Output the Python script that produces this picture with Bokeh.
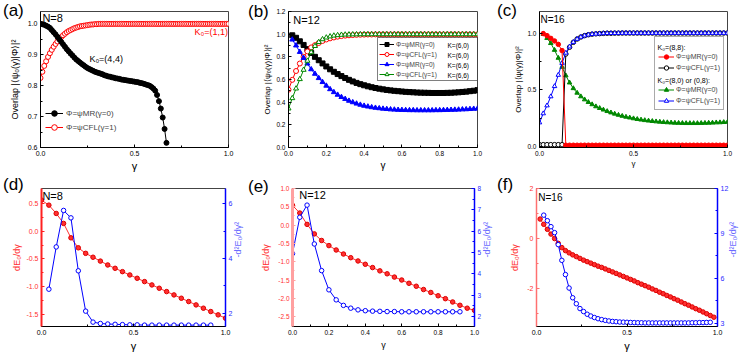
import math
import numpy as np
from bokeh.plotting import figure
from bokeh.models import (Range1d, LinearAxis, FixedTicker, PrintfTickFormatter,
                          Label, Legend, LegendItem, Div)
from bokeh.layouts import row, column
from bokeh.embed import file_html
from bokeh.resources import INLINE

FONT = "Liberation Sans"
RED = "#ff0000"
BLUE = "#0000ff"
GREEN = "#008800"
BLACK = "#000000"
NB = "\u00a0"

# ---------------- data ----------------
# (a) N=8
gamma_a_mr = np.round(np.arange(68) * 0.01, 2)
ov_a_mr = [1.000, 0.999, 0.997, 0.994, 0.991, 0.987, 0.980, 0.973, 0.966, 0.958,
           0.950, 0.942, 0.934, 0.926, 0.918, 0.911, 0.904, 0.898, 0.891, 0.885,
           0.880, 0.875, 0.870, 0.866, 0.861, 0.857, 0.854, 0.851, 0.848, 0.845,
           0.843, 0.841, 0.839, 0.837, 0.834, 0.832, 0.830, 0.829, 0.827, 0.826,
           0.824, 0.823, 0.822, 0.820, 0.819, 0.818, 0.817, 0.816, 0.815, 0.814,
           0.813, 0.812, 0.811, 0.809, 0.808, 0.806, 0.804, 0.802, 0.800, 0.796,
           0.791, 0.784, 0.770, 0.750, 0.726, 0.697, 0.660, 0.615]
gamma_a_cfl = np.round(np.arange(101) * 0.01, 2)
ov_a_cfl = [0.825, 0.845, 0.864, 0.879, 0.893, 0.905, 0.916, 0.926, 0.935, 0.943,
            0.951, 0.957, 0.963, 0.968, 0.973, 0.977, 0.980, 0.983, 0.986, 0.988,
            0.990, 0.992, 0.993, 0.994, 0.995, 0.996, 0.997, 0.998, 0.998, 0.999,
            0.999, 1.000, 1.000, 1.000, 1.000, 1.000, 1.000, 1.000, 1.000, 1.000,
            1.000, 1.000, 1.000, 1.000, 1.000, 1.000, 1.000, 1.000, 1.000, 1.000,
            1.000, 1.000, 1.000, 1.000, 1.000, 1.000, 1.000, 1.000, 1.000, 1.000,
            1.000, 1.000, 1.000, 1.000, 1.000, 1.000, 1.000, 1.000, 1.000, 1.000,
            1.000, 1.000, 1.000, 1.000, 1.000, 1.000, 1.000, 1.000, 1.000, 1.000,
            1.000, 1.000, 1.000, 1.000, 1.000, 1.000, 1.000, 1.000, 1.000, 1.000,
            1.000, 1.000, 1.000, 1.000, 1.000, 1.000, 1.000, 1.000, 1.000, 1.000,
            1.000]

# (b) N=12
gamma_b = np.round(np.arange(51) * 0.02, 2)
ov_b_mr60 = [0.990, 0.968, 0.937, 0.905, 0.868, 0.834, 0.800, 0.770, 0.742, 0.715,
             0.690, 0.668, 0.648, 0.630, 0.613, 0.597, 0.583, 0.570, 0.559, 0.549,
             0.540, 0.532, 0.525, 0.519, 0.513, 0.508, 0.504, 0.500, 0.497, 0.494,
             0.491, 0.489, 0.487, 0.485, 0.484, 0.483, 0.482, 0.481, 0.481, 0.481,
             0.481, 0.482, 0.483, 0.485, 0.487, 0.490, 0.493, 0.497, 0.501, 0.506]
ov_b_cfl60 = [0.510, 0.597, 0.675, 0.741, 0.800, 0.848, 0.883, 0.903, 0.922, 0.940,
              0.953, 0.963, 0.971, 0.978, 0.983, 0.987, 0.990, 0.992, 0.994, 0.995,
              0.996, 0.997, 0.997, 0.998, 0.998, 0.998, 0.998, 0.998, 0.998, 0.998,
              0.998, 0.998, 0.998, 0.998, 0.998, 0.998, 0.998, 0.998, 0.998, 0.998,
              0.998, 0.998, 0.998, 0.998, 0.998, 0.998, 0.998, 0.998, 0.998, 0.998,
              0.998]
ov_b_mr66 = [0.952, 0.900, 0.843, 0.790, 0.740, 0.690, 0.650, 0.612, 0.577, 0.545,
             0.514, 0.488, 0.465, 0.445, 0.428, 0.412, 0.399, 0.387, 0.377, 0.368,
             0.361, 0.355, 0.350, 0.346, 0.342, 0.339, 0.336, 0.334, 0.332, 0.331,
             0.330, 0.329, 0.329, 0.328, 0.328, 0.328, 0.328, 0.328, 0.329, 0.329,
             0.330, 0.331, 0.332, 0.333, 0.334, 0.336, 0.337, 0.339, 0.341, 0.343]
ov_b_cfl66 = [0.344, 0.435, 0.520, 0.603, 0.685, 0.765, 0.840, 0.895, 0.930, 0.955,
              0.970, 0.980, 0.987, 0.991, 0.994, 0.996, 0.997, 0.998, 0.998, 0.999,
              0.999, 0.999, 0.999, 0.999, 0.999, 0.999, 0.999, 0.999, 0.999, 0.999,
              0.999, 0.999, 0.999, 0.999, 0.999, 0.999, 0.999, 0.999, 0.999, 0.999,
              0.999, 0.999, 0.999, 0.999, 0.999, 0.999, 0.999, 0.999, 0.999, 0.999,
              0.999]

# (c) N=16
gamma_c = np.round(np.arange(51) * 0.02, 2)
ov_c_mr88 = [0.995, 0.977, 0.953, 0.930, 0.900, 0.845, 0.010, 0.010, 0.010, 0.010,
             0.010, 0.010, 0.010, 0.010, 0.010, 0.010, 0.010, 0.010, 0.010, 0.010,
             0.010, 0.010, 0.010, 0.010, 0.010, 0.010, 0.010, 0.010, 0.010, 0.010,
             0.010, 0.010, 0.010, 0.010, 0.010, 0.010, 0.010, 0.010, 0.010, 0.010,
             0.010, 0.010, 0.010, 0.010, 0.010, 0.010, 0.010, 0.010, 0.010, 0.010]
ov_c_cfl88 = [0.015, 0.015, 0.015, 0.015, 0.015, 0.015, 0.015, 0.815, 0.875, 0.918,
              0.947, 0.965, 0.977, 0.985, 0.990, 0.993, 0.995, 0.997, 0.998, 0.998,
              0.999, 0.999, 1.000, 1.000, 1.000, 1.000, 1.000, 1.000, 1.000, 1.000,
              1.000, 1.000, 1.000, 1.000, 1.000, 1.000, 1.000, 1.000, 1.000, 1.000,
              1.000, 1.000, 1.000, 1.000, 1.000, 1.000, 1.000, 1.000, 1.000, 1.000,
              1.000]
ov_c_mr80 = [0.990, 0.955, 0.910, 0.850, 0.780, 0.700, 0.625, 0.562, 0.512, 0.472,
             0.440, 0.413, 0.390, 0.370, 0.352, 0.337, 0.323, 0.310, 0.298, 0.287,
             0.277, 0.268, 0.260, 0.253, 0.246, 0.240, 0.235, 0.230, 0.226, 0.222,
             0.219, 0.216, 0.213, 0.211, 0.209, 0.207, 0.206, 0.205, 0.204, 0.204,
             0.204, 0.204, 0.205, 0.206, 0.207, 0.208, 0.210, 0.211, 0.213, 0.215]
ov_c_cfl80 = [0.210, 0.290, 0.360, 0.440, 0.530, 0.630, 0.735, 0.825, 0.880, 0.920,
              0.947, 0.965, 0.977, 0.985, 0.990, 0.993, 0.995, 0.997, 0.998, 0.998,
              0.999, 0.999, 1.000, 1.000, 1.000, 1.000, 1.000, 1.000, 1.000, 1.000,
              1.000, 1.000, 1.000, 1.000, 1.000, 1.000, 1.000, 1.000, 1.000, 1.000,
              1.000, 1.000, 1.000, 1.000, 1.000, 1.000, 1.000, 1.000, 1.000, 1.000,
              1.000]

# (d) N=8
gamma_d = np.round(np.arange(26) * 0.04, 2)
dE_d = [0.56, 0.47, 0.32, 0.14, -0.12, -0.30, -0.40, -0.47, -0.54, -0.61,
        -0.67, -0.73, -0.79, -0.85, -0.91, -0.97, -1.03, -1.09, -1.15, -1.21,
        -1.27, -1.33, -1.39, -1.45, -1.51, -1.57]
gamma_d2 = np.round(np.arange(1, 24) * 0.04, 2)
d2E_d = [2.88, 4.42, 5.75, 5.48, 3.55, 2.08, 1.68, 1.63, 1.61, 1.60,
         1.59, 1.58, 1.58, 1.57, 1.57, 1.57, 1.57, 1.57, 1.57, 1.57,
         1.57, 1.57, 1.57]

# (e) N=12
gamma_e = np.round(np.arange(26) * 0.04, 2)
dE_e = [0.54, 0.33, 0.02, -0.24, -0.42, -0.56, -0.68, -0.79, -0.89, -0.98,
        -1.07, -1.16, -1.25, -1.33, -1.42, -1.50, -1.59, -1.67, -1.76, -1.84,
        -1.93, -2.01, -2.10, -2.19, -2.27, -2.33]
gamma_e2 = np.round(np.arange(24) * 0.04, 2)
d2E_e = [4.95, 6.65, 7.22, 5.40, 4.15, 3.25, 2.78, 2.52, 2.39, 2.31,
         2.27, 2.25, 2.24, 2.23, 2.23, 2.22, 2.22, 2.22, 2.22, 2.22,
         2.22, 2.22, 2.22, 2.22]

# (f) N=16
gamma_f = np.round(np.arange(1, 50) * 0.02, 2)
dE_f = [0.78, 0.57, 0.37, 0.18, 0.00, -0.19, -0.36, -0.48, -0.57, -0.65,
        -0.72, -0.79, -0.86, -0.92, -0.98, -1.04, -1.10, -1.15, -1.21, -1.27,
        -1.33, -1.39, -1.45, -1.51, -1.57, -1.63, -1.69, -1.76, -1.82, -1.88,
        -1.94, -2.01, -2.07, -2.14, -2.20, -2.27, -2.33, -2.40, -2.46, -2.53,
        -2.60, -2.66, -2.73, -2.80, -2.86, -2.93, -3.00, -3.07, -3.14]
gamma_f2 = np.round(np.arange(2, 49) * 0.02, 2)
d2E_f = [10.22, 9.85, 9.45, 9.05, 8.25, 7.20, 6.25, 5.35, 4.70, 4.30,
         3.98, 3.78, 3.60, 3.48, 3.38, 3.30, 3.24, 3.19, 3.15, 3.12,
         3.10, 3.08, 3.07, 3.06, 3.05, 3.04, 3.03, 3.03, 3.02, 3.02,
         3.02, 3.02, 3.02, 3.02, 3.02, 3.02, 3.02, 3.02, 3.02, 3.02,
         3.02, 3.03, 3.03, 3.04, 3.04, 3.05, 3.06]

panel_letters = ["(a)", "(b)", "(c)", "(d)", "(e)", "(f)"]


# ---------------- helpers ----------------
def mkfig(w, h, bl, br, bt, bb, xr, yr):
    p = figure(width=w, height=h, x_range=Range1d(*xr), y_range=Range1d(*yr),
               output_backend="svg", toolbar_location=None, title=None,
               min_border_left=bl, min_border_right=br,
               min_border_top=bt, min_border_bottom=bb)
    p.xgrid.visible = False
    p.ygrid.visible = False
    p.outline_line_color = "#444444"
    p.outline_line_width = 1
    p.background_fill_color = "white"
    p.border_fill_color = "white"
    return p


def sty(ax, ticks, minor, fmt, size="7px", color="black", lcolor="black", lw=1,
        label="", lsize="9px", lcol=None, lstand=4):
    ax.ticker = FixedTicker(ticks=ticks, minor_ticks=minor)
    ax.formatter = PrintfTickFormatter(format=fmt)
    ax.major_label_text_font = FONT
    ax.major_label_text_font_size = size
    ax.major_label_text_color = color
    ax.major_label_standoff = 3
    ax.major_tick_in = 3
    ax.major_tick_out = 0
    ax.minor_tick_in = 2
    ax.minor_tick_out = 0
    ax.major_tick_line_color = lcolor
    ax.minor_tick_line_color = lcolor
    ax.axis_line_color = lcolor
    ax.axis_line_width = lw
    ax.axis_label = label
    ax.axis_label_text_font = FONT
    ax.axis_label_text_font_size = lsize
    ax.axis_label_text_font_style = "normal"
    ax.axis_label_text_color = lcol if lcol else color
    ax.axis_label_standoff = lstand


def right_up(ax):
    # read the right-hand axis title from bottom to top, as in the reference
    if "axis_label_orientation" in ax.properties():
        ax.axis_label_orientation = math.pi / 2


def series(p, x, y, color, marker, fill, size, y_range_name="default", lw=1.0, edge=None):
    l = p.line(x, y, line_color=color, line_width=lw, y_range_name=y_range_name)
    s = p.scatter(x, y, marker=marker, size=size, line_color=edge or color,
                  fill_color=(color if fill else "white"), line_width=1,
                  y_range_name=y_range_name)
    return l, s


def txt(p, x, y, s, size, color="black", align="left", baseline="middle", units="data"):
    p.add_layout(Label(x=x, y=y, x_units=units, y_units=units, text=s,
                       text_font=FONT, text_font_size=size, text_color=color,
                       text_align=align, text_baseline=baseline, level="overlay"))


def letter(s, left, top):
    return Div(text=s, width=26, height=20,
               styles={"position": "absolute", "left": "%dpx" % left, "top": "%dpx" % top,
                       "font-family": FONT, "font-size": "17px", "line-height": "17px",
                       "color": "black", "z-index": "20", "margin": "0", "padding": "0"})


X5 = [0.0, 0.5, 1.0]
X5m = [0.25, 0.75]
X2 = [0.0, 0.2, 0.4, 0.6, 0.8, 1.0]
X2m = [0.1, 0.3, 0.5, 0.7, 0.9]
OVL = "Overlap |\u27e8\u03c8\u2080(\u03b3)|\u03a6\u27e9|\u00b2"
DE = "dE\u2080/d\u03b3"
D2E = "-d\u00b2E\u2080/d\u03b3\u00b2"
G = "\u03b3"

# row 1: frames y 11..148 ; row 2: frames y 188..326
H1, T1, B1 = 174, 11, 26
H2, T2, B2 = 181, 14, 29

# ---------------- (a) ----------------
pa = mkfig(246, H1, 40, 18, T1, B1, (0, 1), (0.6, 1.04))
sty(pa.below[0], X5, X5m, "%.1f", label=G, lsize="11px", lstand=1)
sty(pa.left[0], [0.6, 0.7, 0.8, 0.9, 1.0], [0.65, 0.75, 0.85, 0.95], "%.1f",
    label=OVL, lsize="9px", lstand=5)
la2, sa2 = series(pa, gamma_a_cfl, ov_a_cfl, RED, "circle", False, 5)
la1, sa1 = series(pa, gamma_a_mr, ov_a_mr, BLACK, "circle", True, 5)
leg_a = Legend(items=[LegendItem(label="\u03a6=\u03c8MR(\u03b3=0)", renderers=[la1, sa1]),
                      LegendItem(label="\u03a6=\u03c8CFL(\u03b3=1)", renderers=[la2, sa2])],
               location=(5, 13), border_line_color=None, background_fill_alpha=0.0,
               label_text_font=FONT, label_text_font_size="8px",
               glyph_width=18, glyph_height=14, label_height=14, label_standoff=3,
               spacing=0, padding=2, margin=0)
pa.add_layout(leg_a)
txt(pa, 0.01, 1.037, "N=8", "11px", baseline="top")
txt(pa, 0.26, 0.885, "K\u2080=(4,4)", "9px")
txt(pa, 0.997, 0.975, "K\u2080=(1,1)", "9px", color=RED, align="right")

# ---------------- (b) ----------------
pb = mkfig(249, H1, 42, 18, T1, B1, (0, 1), (0, 1.2))
sty(pb.below[0], X2, X2m, "%.1f", size="6.5px", label=G, lsize="10px", lstand=1)
sty(pb.left[0], [0.0, 0.2, 0.4, 0.6, 0.8, 1.0, 1.2], [0.1, 0.3, 0.5, 0.7, 0.9, 1.1],
    "%.1f", size="6.5px", label=OVL, lsize="8px", lstand=1)
lb1, sb1 = series(pb, gamma_b[1:], ov_b_mr60, BLACK, "square", True, 5)
lb2, sb2 = series(pb, gamma_b, ov_b_cfl60, RED, "circle", False, 5)
lb3, sb3 = series(pb, gamma_b[1:], ov_b_mr66, BLUE, "triangle", True, 5)
lb4, sb4 = series(pb, gamma_b, ov_b_cfl66, GREEN, "triangle", False, 5)
pad = NB * 22
leg_b = Legend(items=[LegendItem(label="\u03a6=\u03c8MR(\u03b3=0)" + pad, renderers=[lb1, sb1]),
                      LegendItem(label="\u03a6=\u03c8CFL(\u03b3=1)" + pad, renderers=[lb2, sb2]),
                      LegendItem(label="\u03a6=\u03c8MR(\u03b3=0)" + pad, renderers=[lb3, sb3]),
                      LegendItem(label="\u03a6=\u03c8CFL(\u03b3=1)" + pad, renderers=[lb4, sb4])],
               location=(89, 66), border_line_color="black", border_line_width=1,
               background_fill_alpha=0.0,
               label_text_font=FONT, label_text_font_size="6.5px",
               glyph_width=15, glyph_height=10, label_height=10, label_standoff=2,
               spacing=0, padding=1, margin=0)
pb.add_layout(leg_b)
for i, kk in enumerate(["K=(6,0)", "K=(6,0)", "K=(6,6)", "K=(6,6)"]):
    txt(pb, 159, 102 - 10 * i, kk, "6.5px", units="screen")
txt(pb, 0.025, 1.175, "N=12", "11px", baseline="top")

# ---------------- (c) ----------------
pc = mkfig(251, H1, 44, 19, T1, B1, (0, 1), (-0.01, 1.19))
sty(pc.below[0], X5, X5m, "%.1f", size="6.5px", label=G, lsize="8px", lstand=0)
sty(pc.left[0], [0.0, 0.5, 1.0], [0.25, 0.75], "%.1f", size="6.5px",
    label="Overlap |\u27e8\u03c8(\u03b3)|\u03a6\u27e9|\u00b2", lsize="8px", lstand=1)
lc3, sc3 = series(pc, gamma_c[1:], ov_c_mr80, GREEN, "triangle", True, 4.5)
lc2, sc2 = series(pc, gamma_c, ov_c_cfl88, BLACK, "circle", False, 4.5)
lc4, sc4 = series(pc, gamma_c, ov_c_cfl80, BLUE, "triangle", False, 4.5)
lc1, sc1 = series(pc, gamma_c[1:], ov_c_mr88, RED, "circle", True, 4.5)
dummy = pc.scatter([], [], marker="circle", size=1, fill_alpha=0, line_alpha=0)
leg_c = Legend(items=[LegendItem(label=NB, renderers=[dummy]),
                      LegendItem(label="\u03a6=\u03c8MR(\u03b3=0)", renderers=[lc1, sc1]),
                      LegendItem(label="\u03a6=\u03c8CFL(\u03b3=1)", renderers=[lc2, sc2]),
                      LegendItem(label=NB + NB, renderers=[dummy]),
                      LegendItem(label="\u03a6=\u03c8MR(\u03b3=0)", renderers=[lc3, sc3]),
                      LegendItem(label="\u03a6=\u03c8CFL(\u03b3=1)", renderers=[lc4, sc4])],
               location=(115, 37), border_line_color="#555555", border_line_width=1,
               background_fill_alpha=0.0,
               label_text_font=FONT, label_text_font_size="7px",
               glyph_width=16, glyph_height=11, label_height=11, label_standoff=2,
               spacing=0, padding=3, margin=0)
pc.add_layout(leg_c)
txt(pc, 118, 100.5, "K\u2080=(8,8):", "7px", units="screen")
txt(pc, 118, 67.5, "K\u2080=(8,0) or (0,8):", "7px", units="screen")
txt(pc, 0.005, 1.165, "N=16", "10px", baseline="top")

# ---------------- (d) ----------------
RL = "#ff3030"
BL = "#2a2aff"
pd_ = mkfig(251, H2, 41, 23, T2, B2, (0, 1), (-1.72, 0.77))
pd_.extra_y_ranges = {"r": Range1d(1.52, 6.55)}
rax = LinearAxis(y_range_name="r")
pd_.add_layout(rax, "right")
sty(pd_.below[0], X5, X5m, "%.1f", label=G, lsize="11px", lstand=2)
sty(pd_.left[0], [0.5, 0.0, -0.5, -1.0, -1.5], [0.25, -0.25, -0.75, -1.25],
    "%.1f", color=RL, lcolor="#ff2020", lw=2, label=DE, lsize="9px", lstand=1)
sty(rax, [2, 4, 6], [3, 5], "%d", color=BL, lcolor=BLUE, lw=1.5,
    label=D2E, lsize="9px", lcol="#6b6bff", lstand=3)
right_up(rax)
series(pd_, gamma_d, dE_d, RL, "circle", True, 4.5, edge="#dd0000")
series(pd_, gamma_d2, d2E_d, BLUE, "circle", False, 4.5, y_range_name="r")
txt(pd_, 0.005, 0.74, "N=8", "11px", baseline="top")

# ---------------- (e) ----------------
pe = mkfig(249, H2, 41, 20, T2, B2, (0, 1), (-2.77, 1.0))
pe.extra_y_ranges = {"r": Range1d(1.53, 8.0)}
rax = LinearAxis(y_range_name="r")
pe.add_layout(rax, "right")
sty(pe.below[0], X2, X2m, "%.1f", size="6.5px", label=G, lsize="9px", lstand=2)
sty(pe.left[0], [1.0, 0.5, 0.0, -0.5, -1.0, -1.5, -2.0, -2.5],
    [0.75, 0.25, -0.25, -0.75, -1.25, -1.75, -2.25], "%.1f", size="6.5px",
    color=RL, lcolor="#ffa0a0", lw=3, label=DE, lsize="9px", lstand=4)
sty(rax, [2, 3, 4, 5, 6, 7, 8], [2.5, 3.5, 4.5, 5.5, 6.5, 7.5], "%d", size="6.5px",
    color=BL, lcolor=BLUE, lw=1.5, label=D2E, lsize="9px", lcol="#6b6bff", lstand=3)
right_up(rax)
series(pe, gamma_e, dE_e, RL, "circle", True, 4.5, edge="#dd0000")
series(pe, gamma_e2, d2E_e, BLUE, "circle", False, 4.5, y_range_name="r")
txt(pe, 0.037, 0.99, "N=12", "11px", baseline="top")

# ---------------- (f) ----------------
pf = mkfig(246, H2, 36, 24, T2, B2, (0, 1), (-3.51, 2.0))
pf.extra_y_ranges = {"r": Range1d(2.78, 12.0)}
rax = LinearAxis(y_range_name="r")
pf.add_layout(rax, "right")
sty(pf.below[0], X5, X5m, "%.1f", label=G, lsize="11px", lstand=2)
sty(pf.left[0], [2, 0, -2], [1, -1, -3], "%d", color=RL, lcolor="#ff7070", lw=1.5,
    label=DE, lsize="9px", lstand=4)
sty(rax, [3, 6, 9, 12], [4.5, 7.5, 10.5], "%d", color=BL, lcolor=BLUE, lw=1.5,
    label=D2E, lsize="9px", lcol="#6b6bff", lstand=2)
right_up(rax)
series(pf, gamma_f, dE_f, RL, "circle", True, 4.5, edge="#dd0000")
series(pf, gamma_f2, d2E_f, BLUE, "circle", False, 4.5, y_range_name="r")
txt(pf, 0.01, 1.88, "N=16", "10px", baseline="top")

# panel letters, placed over the figures' top-left corners
letter_pos = [(3, 2), (248, 3), (497, 2), (3, 176), (248, 178), (497, 176)]
letters = [letter(s, x, y) for s, (x, y) in zip(panel_letters, letter_pos)]

layout = column(row(pa, pb, pc), row(pd_, pe, pf), *letters)
open("out.html", "w").write(file_html(layout, INLINE))
